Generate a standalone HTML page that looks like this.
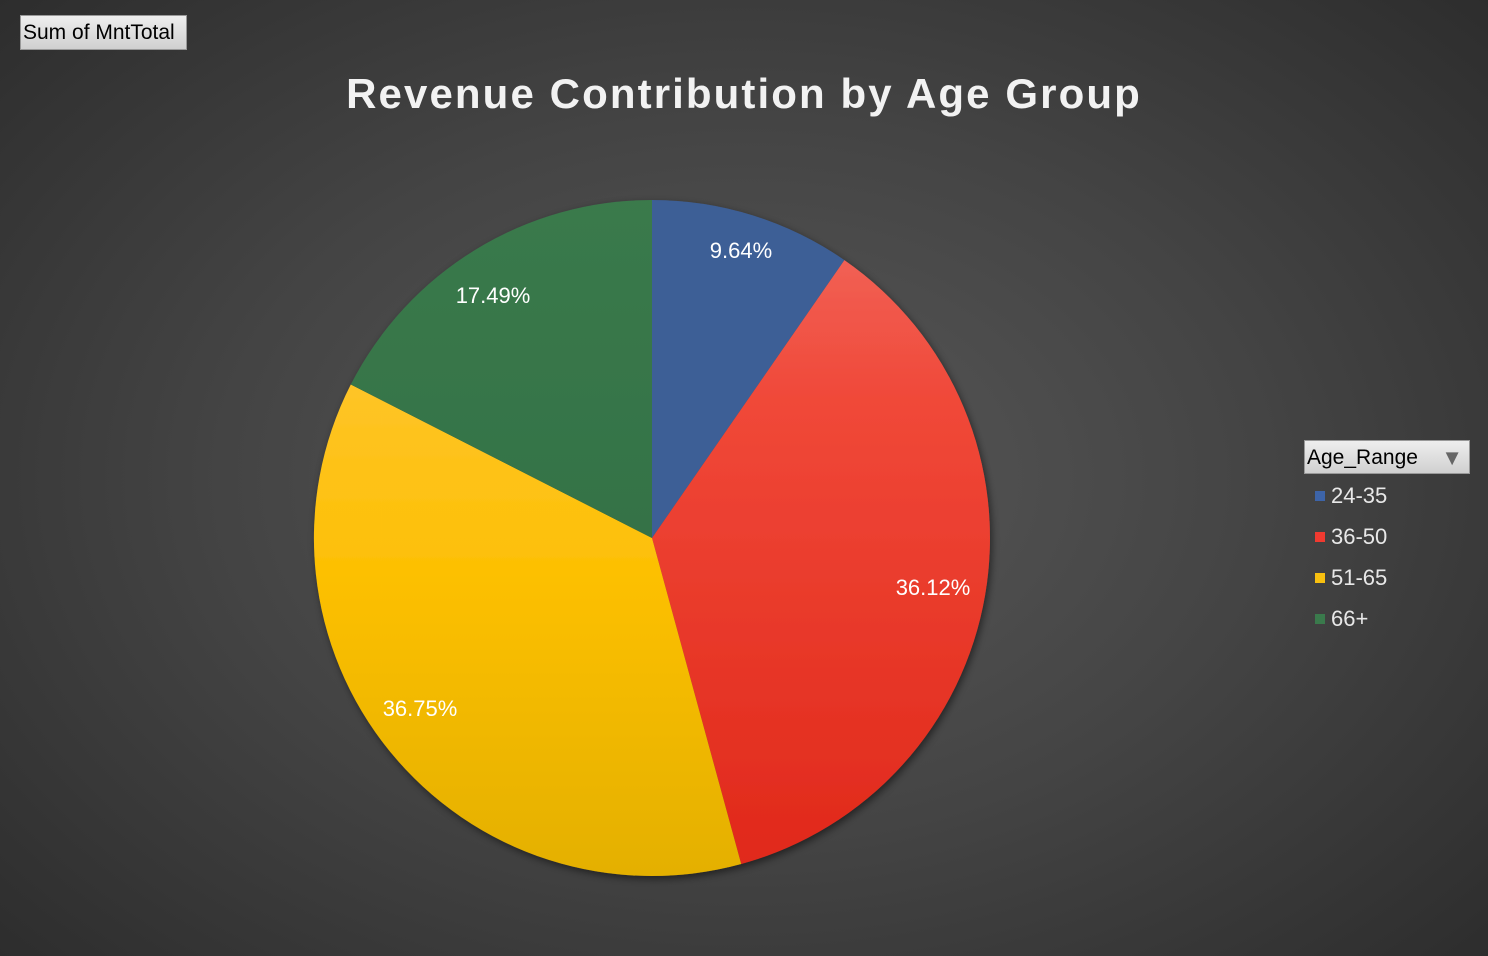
<!DOCTYPE html>
<html><head><style>
html,body{margin:0;padding:0}
body{width:1488px;height:956px;overflow:hidden;background:radial-gradient(ellipse 70% 75% at 50% 50%,#585858 0%,#444 50%,#2c2c2c 100%);font-family:"Liberation Sans",sans-serif;position:relative}
.btn{position:absolute;background:linear-gradient(#eee,#d0d0d0);color:#000;font-size:21px;border:1px solid #999;box-sizing:border-box}
.leg{position:absolute;left:1315px;color:#e8e8e8;font-size:22px}
.leg i{display:inline-block;width:10px;height:10px;margin-right:6px;vertical-align:2px}
</style></head><body>
<div class="btn" style="left:20px;top:15px;width:167px;height:35px;padding:5px 0 0 2px">Sum of MntTotal</div>
<div style="position:absolute;left:0;width:1488px;top:70px;text-align:center;color:#f2f2f2;font-size:42px;font-weight:bold;letter-spacing:2.1px">Revenue Contribution by Age Group</div>
<svg width="1488" height="956" style="position:absolute;left:0;top:0">
<defs>
<linearGradient id="r" gradientUnits="userSpaceOnUse" x1="0" y1="200" x2="0" y2="876"><stop offset="0" stop-color="#f26a60"/><stop offset="0.3" stop-color="#f04838"/><stop offset="1" stop-color="#e0281a"/></linearGradient>
<linearGradient id="y" gradientUnits="userSpaceOnUse" x1="0" y1="200" x2="0" y2="876"><stop offset="0" stop-color="#ffc84a"/><stop offset="0.55" stop-color="#fdc004"/><stop offset="1" stop-color="#e4b000"/></linearGradient>
<linearGradient id="g" gradientUnits="userSpaceOnUse" x1="0" y1="200" x2="0" y2="876"><stop offset="0" stop-color="#3a7a4c"/><stop offset="1" stop-color="#2e6a40"/></linearGradient>
<filter id="s" x="-10%" y="-10%" width="120%" height="120%"><feDropShadow dx="2" dy="3" stdDeviation="4" flood-opacity="0.5"/></filter>
</defs>
<g filter="url(#s)">
<path d="M652,538 L652,200 A338,338 0 0 1 844.4,260.1 Z" fill="#3d5e96"/>
<path d="M652,538 L844.4,260.1 A338,338 0 0 1 741.2,864 Z" fill="url(#r)"/>
<path d="M652,538 L741.2,864 A338,338 0 0 1 350.8,384.5 Z" fill="url(#y)"/>
<path d="M652,538 L350.8,384.5 A338,338 0 0 1 652,200 Z" fill="url(#g)"/>
</g>
<g fill="#fff" font-family="Liberation Sans, sans-serif" font-size="22" text-anchor="middle">
<text x="741" y="258">9.64%</text>
<text x="933" y="595">36.12%</text>
<text x="420" y="716">36.75%</text>
<text x="493" y="303">17.49%</text>
</g>
</svg>
<div class="btn" style="left:1304px;top:440px;width:166px;height:34px;padding:5px 0 0 2px">Age_Range<span style="position:absolute;right:6px;top:4px;color:#666;font-size:22px">▼</span></div>
<div class="leg" style="top:483px"><i style="background:#3d64a8"></i>24-35</div>
<div class="leg" style="top:524px"><i style="background:#f03a30"></i>36-50</div>
<div class="leg" style="top:565px"><i style="background:#f8c010"></i>51-65</div>
<div class="leg" style="top:606px"><i style="background:#3a7a4c"></i>66+</div>
</body></html>
